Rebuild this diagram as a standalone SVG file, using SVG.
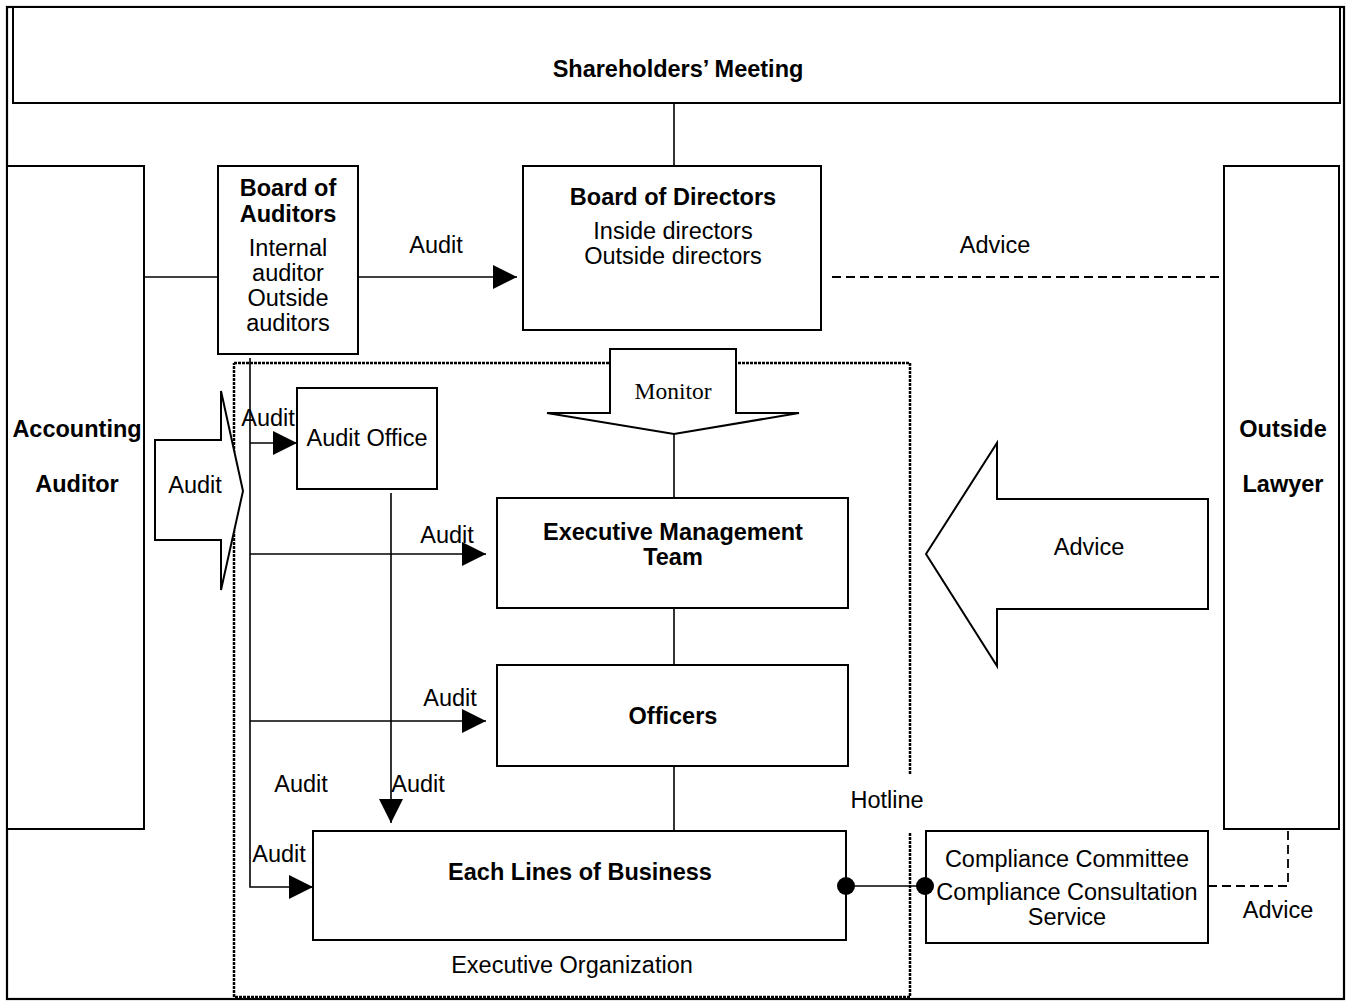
<svg xmlns="http://www.w3.org/2000/svg" width="1351" height="1001" viewBox="0 0 1351 1001">
<defs>
<style>
.box{fill:#fff;stroke:#000;stroke-width:2}
.ln{fill:none;stroke:#000;stroke-width:1.6}
.dash{fill:none;stroke:#000;stroke-width:1.8;stroke-dasharray:9 5}
.dot{fill:none;stroke:#000;stroke-width:2.5;stroke-dasharray:3 1}
.t{font-family:"Liberation Sans",Arial,sans-serif;font-size:23.5px;text-anchor:middle;fill:#000}
.b{font-weight:bold}
.s{font-family:"Liberation Serif","Times New Roman",serif}
</style>
<marker id="ah" viewBox="0 0 24 24" refX="24" refY="12" markerWidth="24" markerHeight="24" markerUnits="userSpaceOnUse" orient="auto">
<path d="M0,0 L24,12 L0,24 Z" fill="#000"/>
</marker>
</defs>
<rect x="0" y="0" width="1351" height="1001" fill="#fff"/>
<rect x="7" y="7" width="1337" height="992" fill="none" stroke="#000" stroke-width="2.2"/>

<g id="executive-organization">
<path class="dot" d="M234,363 H910 V775 M910,833 V997 H234 V363"/>
<text class="t" x="572" y="973">Executive Organization</text>
</g>

<g id="shareholders-meeting">
<rect class="box" x="13" y="7" width="1327" height="96"/>
<text class="t b" x="678" y="77">Shareholders’ Meeting</text>
</g>

<g id="accounting-auditor">
<rect class="box" x="7" y="166" width="137" height="663"/>
<text class="t b" x="77" y="437">Accounting</text>
<text class="t b" x="77" y="492">Auditor</text>
</g>

<g id="board-of-auditors">
<rect class="box" x="218" y="166" width="140" height="188"/>
<text class="t b" x="288" y="196">Board of</text>
<text class="t b" x="288" y="222">Auditors</text>
<text class="t" x="288" y="256">Internal</text>
<text class="t" x="288" y="281">auditor</text>
<text class="t" x="288" y="306">Outside</text>
<text class="t" x="288" y="331">auditors</text>
</g>

<g id="board-of-directors">
<rect class="box" x="523" y="166" width="298" height="164"/>
<text class="t b" x="673" y="205">Board of Directors</text>
<text class="t" x="673" y="239">Inside directors</text>
<text class="t" x="673" y="264">Outside directors</text>
</g>

<g id="outside-lawyer">
<rect class="box" x="1224" y="166" width="115" height="663"/>
<text class="t b" x="1283" y="437">Outside</text>
<text class="t b" x="1283" y="492">Lawyer</text>
</g>

<g id="monitor-arrow">
<path class="box" d="M610,349 H736 V413 H799 L674,434 L547,413 H610 Z"/>
<text class="t s" x="673" y="399">Monitor</text>
</g>

<g id="audit-arrow">
<path class="box" d="M155,440 H221 V391 L243,491 L221,590 V540 H155 Z"/>
<text class="t" x="195" y="493">Audit</text>
</g>

<g id="advice-arrow">
<path class="box" d="M1208,499 H997 V443 L926,554 L997,666 V609 H1208 Z"/>
<text class="t" x="1089" y="555">Advice</text>
</g>

<g id="audit-office">
<rect class="box" x="297" y="388" width="140" height="101"/>
<text class="t" x="367" y="446">Audit Office</text>
</g>

<g id="executive-management-team">
<rect class="box" x="497" y="498" width="351" height="110"/>
<text class="t b" x="673" y="540">Executive Management</text>
<text class="t b" x="673" y="565">Team</text>
</g>

<g id="officers">
<rect class="box" x="497" y="665" width="351" height="101"/>
<text class="t b" x="673" y="724">Officers</text>
</g>

<g id="each-lines-of-business">
<rect class="box" x="313" y="831" width="533" height="109"/>
<text class="t b" x="580" y="880">Each Lines of Business</text>
</g>

<g id="compliance">
<rect class="box" x="926" y="831" width="282" height="112"/>
<text class="t" x="1067" y="867">Compliance Committee</text>
<text class="t" x="1067" y="900">Compliance Consultation</text>
<text class="t" x="1067" y="925">Service</text>
</g>

<g id="connectors">
<line class="ln" x1="674" y1="103" x2="674" y2="166"/>
<line class="ln" x1="144" y1="277" x2="218" y2="277"/>
<line class="ln" x1="358" y1="277" x2="517" y2="277" marker-end="url(#ah)"/>
<line class="dash" x1="832" y1="277" x2="1224" y2="277"/>
<line class="ln" x1="674" y1="434" x2="674" y2="498"/>
<line class="ln" x1="674" y1="608" x2="674" y2="665"/>
<line class="ln" x1="674" y1="766" x2="674" y2="830"/>
<path class="ln" d="M250,358 V887 H313" marker-end="url(#ah)"/>
<line class="ln" x1="250" y1="443" x2="297" y2="443" marker-end="url(#ah)"/>
<line class="ln" x1="250" y1="554" x2="486" y2="554" marker-end="url(#ah)"/>
<line class="ln" x1="250" y1="721" x2="486" y2="721" marker-end="url(#ah)"/>
<line class="ln" x1="391" y1="493" x2="391" y2="823" marker-end="url(#ah)"/>
<line class="ln" x1="846" y1="886" x2="925" y2="886"/>
<circle cx="846" cy="886" r="9" fill="#000"/>
<circle cx="925" cy="886" r="9" fill="#000"/>
<path class="dash" d="M1208,886 H1288 V829"/>
<text class="t" x="436" y="253">Audit</text>
<text class="t" x="995" y="253">Advice</text>
<text class="t" x="268" y="426">Audit</text>
<text class="t" x="447" y="543">Audit</text>
<text class="t" x="450" y="706">Audit</text>
<text class="t" x="301" y="792">Audit</text>
<text class="t" x="418" y="792">Audit</text>
<text class="t" x="279" y="862">Audit</text>
<text class="t" x="887" y="808">Hotline</text>
<text class="t" x="1278" y="918">Advice</text>
</g>
</svg>
